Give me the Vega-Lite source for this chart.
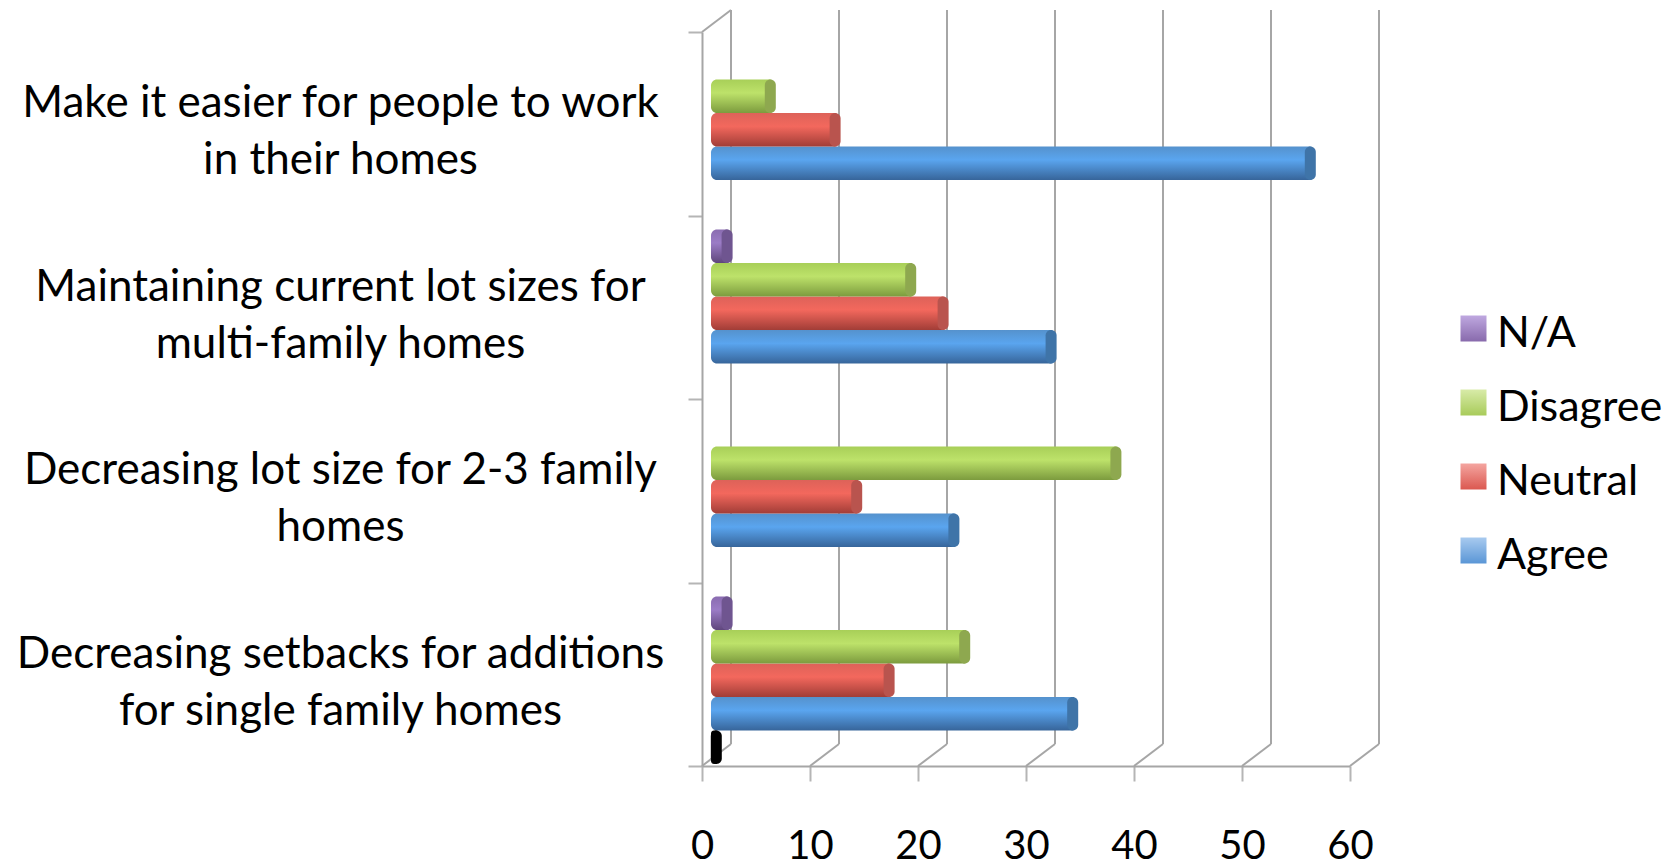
{"$schema":"https://vega.github.io/schema/vega-lite/v6.json","width":648,"height":734,"autosize":{"type":"none"},"padding":{"left":702,"top":32,"right":327,"bottom":96},"background":"white","config":{"view":{"stroke":null},"font":"Lato"},"resolve":{"scale":{"fill":"independent"}},"datasets":{"answers":[
{"question":"Make it easier for people to work in their homes","response":"Agree","value":56},
{"question":"Make it easier for people to work in their homes","response":"Neutral","value":12},
{"question":"Make it easier for people to work in their homes","response":"Disagree","value":6},
{"question":"Maintaining current lot sizes for multi-family homes","response":"Agree","value":32},
{"question":"Maintaining current lot sizes for multi-family homes","response":"Neutral","value":22},
{"question":"Maintaining current lot sizes for multi-family homes","response":"Disagree","value":19},
{"question":"Maintaining current lot sizes for multi-family homes","response":"N/A","value":2},
{"question":"Decreasing lot size for 2-3 family homes","response":"Agree","value":23},
{"question":"Decreasing lot size for 2-3 family homes","response":"Neutral","value":14},
{"question":"Decreasing lot size for 2-3 family homes","response":"Disagree","value":38},
{"question":"Decreasing setbacks for additions for single family homes","response":"Agree","value":34},
{"question":"Decreasing setbacks for additions for single family homes","response":"Neutral","value":17},
{"question":"Decreasing setbacks for additions for single family homes","response":"Disagree","value":24},
{"question":"Decreasing setbacks for additions for single family homes","response":"N/A","value":2},
{"question":"Decreasing setbacks for additions for single family homes","response":"Unlabelled","value":1}
],"ticks":[{"tick":0},{"tick":10},{"tick":20},{"tick":30},{"tick":40},{"tick":50},{"tick":60}]},
"layer":[
{"data":{"name":"ticks"},"mark":{"type":"rule","color":"#a6a6a6","strokeWidth":2,"xOffset":29},"encoding":{"x":{"field":"tick","type":"quantitative","scale":{"domain":[0,60]},"axis":{"values":[0,10,20,30,40,50,60],"title":null,"grid":false,"tickSize":15,"tickWidth":2,"tickColor":"#b5b5b5","domainColor":"#a6a6a6","domainWidth":2,"labelFontSize":40,"labelColor":"#000000","labelPadding":45,"labelFont":"Lato","labelFlush":false}},"y":{"value":-22},"y2":{"value":712}}},
{"data":{"name":"ticks"},"mark":{"type":"rule","color":"#a6a6a6","strokeWidth":2,"x2Offset":29},"encoding":{"x":{"field":"tick","type":"quantitative"},"x2":{"field":"tick"},"y":{"value":734},"y2":{"value":712}}},
{"data":{"values":[{"tick":0}]},"mark":{"type":"rule","color":"#a6a6a6","strokeWidth":2,"x2Offset":29},"encoding":{"x":{"field":"tick","type":"quantitative"},"x2":{"field":"tick"},"y":{"value":0},"y2":{"value":-22}}},
{"data":{"name":"answers"},"mark":{"type":"bar","xOffset":4,"x2Offset":9,"cornerRadiusTopLeft":6,"cornerRadiusBottomLeft":6},"encoding":{
"y":{"field":"question","type":"nominal","sort":["Make it easier for people to work in their homes","Maintaining current lot sizes for multi-family homes","Decreasing lot size for 2-3 family homes","Decreasing setbacks for additions for single family homes"],"scale":{"padding":0},"axis":{"title":null,"tickBand":"extent","tickSize":14,"tickWidth":2,"tickColor":"#b5b5b5","domainColor":"#a6a6a6","domainWidth":2,"labelFontSize":44,"labelColor":"#000000","labelFont":"Lato","labelAlign":"center","labelBaseline":"middle","labelPadding":348,"labelLimit":800,"labelOffset":-20,"labelLineHeight":57,"labelExpr":"indexof(datum.label,'Make')==0?['Make it easier for people to work','in their homes']:indexof(datum.label,'Maintaining')==0?['Maintaining current lot sizes for','multi-family homes']:indexof(datum.label,'Decreasing lot')==0?['Decreasing lot size for 2-3 family','homes']:indexof(datum.label,'Decreasing setbacks')==0?['Decreasing setbacks for additions','for single family homes']:''"}},
"yOffset":{"field":"response","type":"nominal","sort":["N/A","Disagree","Neutral","Agree","Unlabelled"],"scale":{"paddingInner":0,"paddingOuter":0.24,"align":0.875}},
"x":{"field":"value","type":"quantitative","stack":null},
"x2":{"datum":0},
"fill":{"field":"response","type":"nominal","legend":null,"scale":{"domain":["N/A","Disagree","Neutral","Agree","Unlabelled"],"range":[
{"expr":"{gradient:'linear',x1:0,y1:0,x2:0,y2:1,stops:[{offset:0,color:'#8a6cb0'},{offset:0.4,color:'#9b7cc6'},{offset:1,color:'#5f467c'}]}"},
{"expr":"{gradient:'linear',x1:0,y1:0,x2:0,y2:1,stops:[{offset:0,color:'#a8cf58'},{offset:0.4,color:'#bde26a'},{offset:1,color:'#7c9b3e'}]}"},
{"expr":"{gradient:'linear',x1:0,y1:0,x2:0,y2:1,stops:[{offset:0,color:'#dd6259'},{offset:0.4,color:'#f3685d'},{offset:1,color:'#a13d37'}]}"},
{"expr":"{gradient:'linear',x1:0,y1:0,x2:0,y2:1,stops:[{offset:0,color:'#5592cd'},{offset:0.4,color:'#5aa5ef'},{offset:1,color:'#37659a'}]}"},
{"expr":"{gradient:'linear',x1:0,y1:0,x2:0,y2:1,stops:[{offset:0,color:'#000000'},{offset:1,color:'#111111'}]}"}
]}}}},
{"data":{"name":"answers"},"mark":{"type":"bar","xOffset":9,"x2Offset":-2,"cornerRadius":5.5},"encoding":{
"y":{"field":"question","type":"nominal","sort":["Make it easier for people to work in their homes","Maintaining current lot sizes for multi-family homes","Decreasing lot size for 2-3 family homes","Decreasing setbacks for additions for single family homes"]},
"yOffset":{"field":"response","type":"nominal","sort":["N/A","Disagree","Neutral","Agree","Unlabelled"]},
"x":{"field":"value","type":"quantitative","stack":null},
"x2":{"field":"value"},
"color":{"field":"response","type":"nominal","scale":{"domain":["N/A","Disagree","Neutral","Agree","Unlabelled"],"range":["#6f5590","#8ea84f","#b9544e","#3f74a8","#000000"]},"legend":null}}},
{"data":{"name":"answers"},"transform":[{"filter":"datum.response=='none'"}],"mark":{"type":"bar"},"encoding":{
"y":{"field":"question","type":"nominal","sort":["Make it easier for people to work in their homes","Maintaining current lot sizes for multi-family homes","Decreasing lot size for 2-3 family homes","Decreasing setbacks for additions for single family homes"]},
"x":{"field":"value","type":"quantitative","stack":null},
"fill":{"field":"response","type":"nominal","scale":{"domain":["N/A","Disagree","Neutral","Agree"],"range":[
{"expr":"{gradient:'linear',x1:0,y1:0,x2:0,y2:1,stops:[{offset:0,color:'#bfa8e0'},{offset:1,color:'#886aac'}]}"},
{"expr":"{gradient:'linear',x1:0,y1:0,x2:0,y2:1,stops:[{offset:0,color:'#d8eba8'},{offset:1,color:'#a8cb5a'}]}"},
{"expr":"{gradient:'linear',x1:0,y1:0,x2:0,y2:1,stops:[{offset:0,color:'#f4a5a0'},{offset:1,color:'#db5850'}]}"},
{"expr":"{gradient:'linear',x1:0,y1:0,x2:0,y2:1,stops:[{offset:0,color:'#a8caef'},{offset:1,color:'#5a96d6'}]}"}
]},"legend":{"title":null,"orient":"none","legendX":750,"legendY":275,"symbolType":"square","symbolSize":676,"symbolStrokeWidth":0,"labelFontSize":43,"labelFont":"Lato","labelColor":"#000000","labelOffset":2,"rowPadding":25,"padding":0,"labelLimit":300,"encoding":{"labels":{"dy":{"value":5}}}}}}}
]}
